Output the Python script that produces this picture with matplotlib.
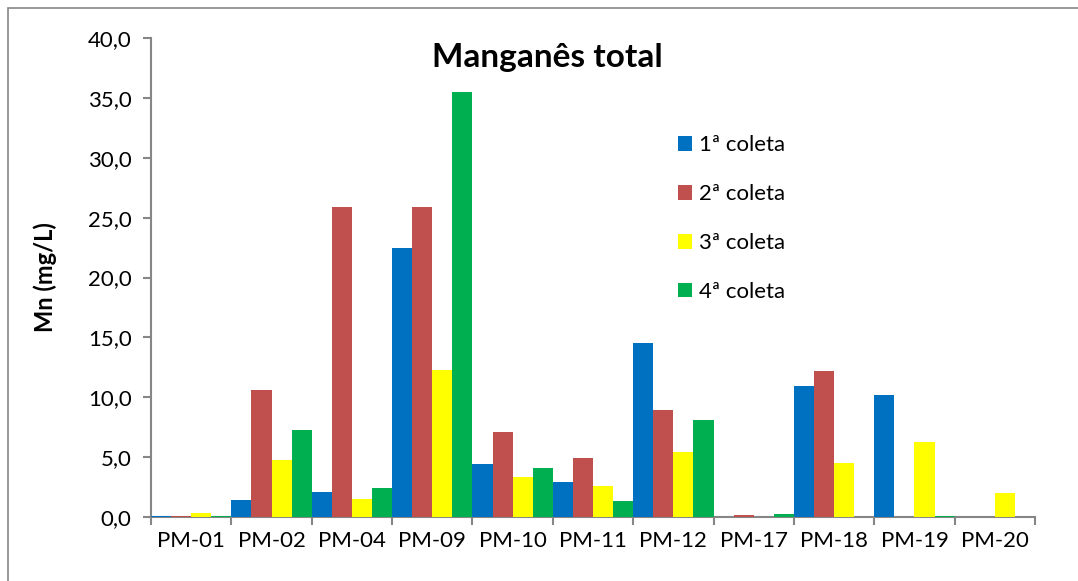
import numpy as np
import matplotlib.pyplot as plt
from matplotlib.patches import Rectangle

plt.rcParams['font.family'] = ['Lato', 'DejaVu Sans']

pontos = ['PM-01', 'PM-02', 'PM-04', 'PM-09', 'PM-10', 'PM-11',
          'PM-12', 'PM-17', 'PM-18', 'PM-19', 'PM-20']
coleta1 = [0.1, 1.4, 2.1, 22.5, 4.4, 2.9, 14.5, 0.0, 10.9, 10.2, 0.0]
coleta2 = [0.1, 10.6, 25.9, 25.9, 7.1, 4.9, 8.9, 0.17, 12.2, 0.0, 0.0]
coleta3 = [0.3, 4.8, 1.5, 12.3, 3.3, 2.6, 5.4, 0.0, 4.5, 6.3, 2.0]
coleta4 = [0.1, 7.3, 2.4, 35.5, 4.1, 1.3, 8.1, 0.25, 0.0, 0.1, 0.0]
series = [('1ª coleta', coleta1, '#0070c0'),
          ('2ª coleta', coleta2, '#c0504d'),
          ('3ª coleta', coleta3, '#ffff00'),
          ('4ª coleta', coleta4, '#00b050')]

fig = plt.figure(figsize=(10.78, 5.81), dpi=100)
ax = fig.add_axes([151/1078, 1 - 517/581, (1035-151)/1078, (517-38)/581])

# outer chart frame
fig.patches.append(Rectangle((8/1078, -0.05), 1.2, 1 - 8/581 + 0.05,
                             transform=fig.transFigure, fill=False,
                             edgecolor='#868686', linewidth=1.2))

x = np.arange(len(pontos))
w = 0.25
for i, (nome, vals, cor) in enumerate(series):
    ax.bar(x - 0.5 + w*(i + 0.5), vals, width=w, color=cor, label=nome,
           edgecolor='none', zorder=3)

ax.set_xlim(-0.5, len(pontos) - 0.5)
ax.set_ylim(0, 40)
ax.set_yticks(np.arange(0, 40.1, 5))
ax.set_yticklabels([f'{v:.1f}'.replace('.', ',') for v in np.arange(0, 40.1, 5)])
ax.set_xticks(x)
ax.set_xticklabels(pontos)
ax.set_xticks(np.arange(-0.5, len(pontos)), minor=True)
ax.tick_params(axis='x', which='major', length=0, labelsize=16, pad=10)
ax.tick_params(axis='x', which='minor', length=6, color='#868686', width=1.5)
ax.tick_params(axis='y', length=6, color='#868686', width=1.5, labelsize=16, pad=8)

for s in ['top', 'right']:
    ax.spines[s].set_visible(False)
for s in ['left', 'bottom']:
    ax.spines[s].set_color('#868686')
    ax.spines[s].set_linewidth(1.5)

ax.set_ylabel('Mn (mg/L)', fontsize=17, fontweight='bold', labelpad=22)
ax.text(0.448, 0.99, 'Manganês total', transform=ax.transAxes, ha='center',
        va='top', fontsize=24, fontweight='bold')

ax.legend(loc='upper left', bbox_to_anchor=(0.573, 0.839), frameon=False,
          fontsize=16, handlelength=0.65, handleheight=0.65, labelspacing=1.3,
          handletextpad=0.3)

fig.savefig('out.png', dpi=100)
